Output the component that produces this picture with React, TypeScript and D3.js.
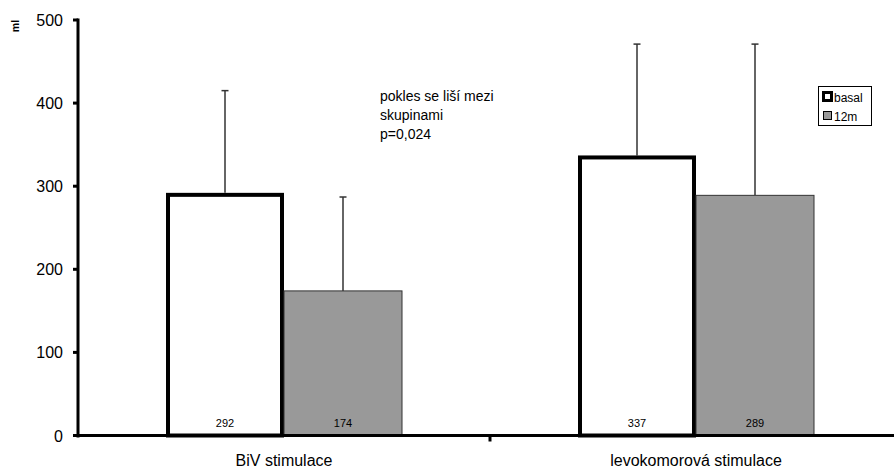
import React from "react";
import * as d3 from "d3";

const categories = ["BiV stimulace", "levokomorová stimulace"];
const seriesNames = ["basal", "12m"];
const basalValues = [292, 337];
const m12Values = [174, 289];
const basalSD = [123, 134];
const m12SD = [113, 182];
const yTicks = [0, 100, 200, 300, 400, 500];
const noteLines = ["pokles se liší mezi", "skupinami", "p=0,024"];

const W = 894;
const H = 471;
const FONT = "'Liberation Sans', Arial, Helvetica, sans-serif";

export default function App() {
  const x0 = 78;
  const x1 = 902;
  const yTop = 20;
  const yBase = 435.5;

  const x = d3.scaleBand<string>().domain(categories).range([x0, x1]).paddingInner(0).paddingOuter(0);
  const inner = d3.scaleBand<string>().domain(seriesNames).range([0, 236]);
  const y = d3.scaleLinear().domain([0, 500]).range([yBase, yTop]);

  const groups = categories.map((c, i) => ({
    c,
    bars: [
      { s: "basal", v: basalValues[i], sd: basalSD[i] },
      { s: "12m", v: m12Values[i], sd: m12SD[i] },
    ],
  }));

  return (
    <svg
      width={W}
      height={H}
      style={{ position: "fixed", left: 0, top: 0, display: "block", fontFamily: FONT }}
    >
      <rect width={W} height={H} fill="#fff" />
      {/* bars and error bars */}
      {groups.map((g) => {
        const cx = x(g.c)! + x.bandwidth() / 2;
        const gStart = cx - 118;
        return (
          <g key={g.c}>
            {g.bars.map((b) => {
              const bx = gStart + inner(b.s)!;
              const bw = inner.bandwidth();
              const top = y(b.v);
              const mid = bx + bw / 2;
              const errTop = y(b.v + b.sd);
              return (
                <g key={b.s}>
                  <line x1={mid} x2={mid} y1={top} y2={errTop} stroke="#333" strokeWidth={1.5} />
                  <line x1={mid - 3.5} x2={mid + 3.5} y1={errTop} y2={errTop} stroke="#333" strokeWidth={1.5} />
                  {b.s === "basal" ? (
                    <rect x={bx + 2} y={top + 2} width={bw - 4} height={yBase - top - 2} fill="#fff" stroke="#000" strokeWidth={4} />
                  ) : (
                    <rect x={bx} y={top} width={bw} height={yBase - top} fill="#999999" stroke="#333" strokeWidth={1} />
                  )}
                  <text x={mid} y={yBase - 9} textAnchor="middle" fontSize={11} fill="#000">
                    {b.v}
                  </text>
                </g>
              );
            })}
          </g>
        );
      })}
      {/* y axis */}
      <line x1={x0} x2={x0} y1={yTop - 1.5} y2={yBase + 2} stroke="#000" strokeWidth={3} />
      {yTicks.map((t) => (
        <g key={t}>
          <line x1={x0 - 5} x2={x0} y1={y(t)} y2={y(t)} stroke="#000" strokeWidth={3} />
          <text x={63} y={y(t) + 6} textAnchor="end" fontSize={16} fill="#000">
            {t}
          </text>
        </g>
      ))}
      <text transform={`translate(18.5,26) rotate(-90)`} textAnchor="middle" fontSize={10.5} fontWeight="bold" fill="#000">
        ml
      </text>
      {/* x axis */}
      <line x1={x0 - 1.5} x2={x1} y1={yBase} y2={yBase} stroke="#000" strokeWidth={3} />
      {categories.slice(1).map((c) => (
        <line key={c} x1={x(c)!} x2={x(c)!} y1={yBase} y2={yBase + 6} stroke="#000" strokeWidth={3} />
      ))}
      {categories.map((c) => (
        <text key={c} x={x(c)! + x.bandwidth() / 2} y={466} textAnchor="middle" fontSize={16} fill="#000">
          {c}
        </text>
      ))}
      {/* note */}
      {noteLines.map((l, i) => (
        <text key={i} x={380} y={101 + i * 19} fontSize={14} fill="#000">
          {l}
        </text>
      ))}
      {/* legend */}
      <rect x={818.5} y={86.5} width={53} height={39} fill="#fff" stroke="#000" strokeWidth={1} />
      <rect x={823.5} y={92.5} width={8} height={8} fill="#fff" stroke="#000" strokeWidth={3} />
      <text x={834} y={101.5} fontSize={12} fill="#000">
        {seriesNames[0]}
      </text>
      <rect x={823.5} y={111.5} width={8} height={8} fill="#999999" stroke="#000" strokeWidth={1} />
      <text x={834} y={120.5} fontSize={12} fill="#000">
        {seriesNames[1]}
      </text>
    </svg>
  );
}
